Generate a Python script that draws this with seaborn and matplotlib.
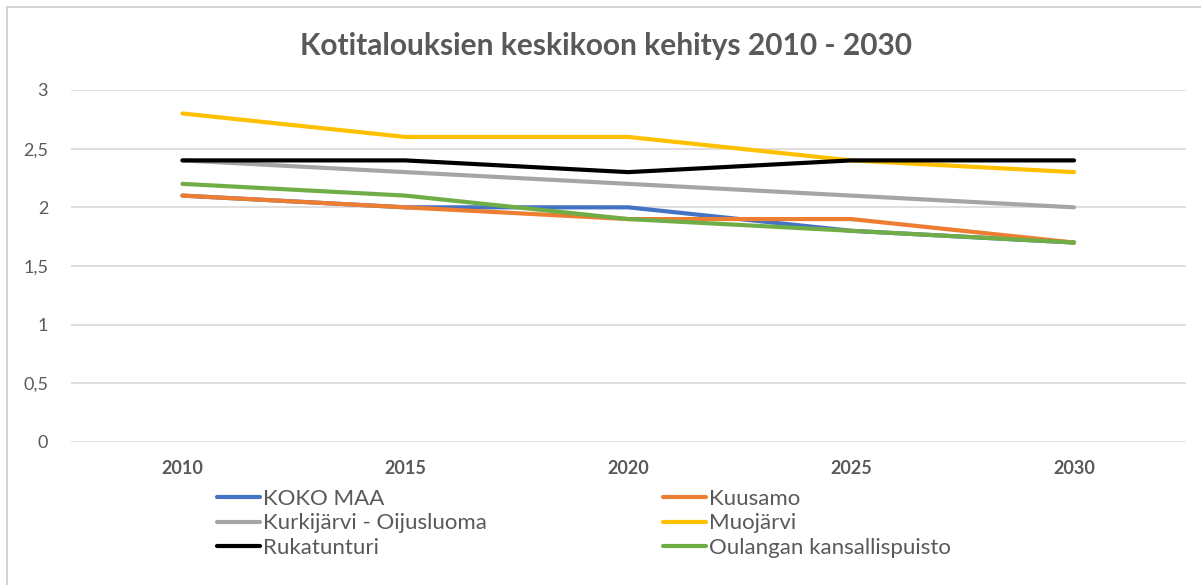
import matplotlib
matplotlib.use("Agg")
import matplotlib.pyplot as plt
import seaborn as sns
import pandas as pd
from matplotlib.lines import Line2D

years = [2010, 2015, 2020, 2025, 2030]
series_names = ["KOKO MAA", "Kuusamo", "Kurkijärvi - Oijusluoma", "Muojärvi",
                "Rukatunturi", "Oulangan kansallispuisto"]
koko_maa = [2.1, 2.0, 2.0, 1.8, 1.7]
kuusamo = [2.1, 2.0, 1.9, 1.9, 1.7]
kurkijarvi = [2.4, 2.3, 2.2, 2.1, 2.0]
muojarvi = [2.8, 2.6, 2.6, 2.4, 2.3]
rukatunturi = [2.4, 2.4, 2.3, 2.4, 2.4]
oulanka = [2.2, 2.1, 1.9, 1.8, 1.7]
y_ticks = [0, 0.5, 1, 1.5, 2, 2.5, 3]
y_tick_labels = ["0", "0,5", "1", "1,5", "2", "2,5", "3"]
title = "Kotitalouksien keskikoon kehitys 2010 - 2030"

colors = ["#4472C4", "#ED7D31", "#A5A5A5", "#FFC000", "#000000", "#70AD47"]

values = [koko_maa, kuusamo, kurkijarvi, muojarvi, rukatunturi, oulanka]
rows = []
for name, vals in zip(series_names, values):
    for yr, v in zip(years, vals):
        rows.append({"Vuosi": yr, "Arvo": v, "Sarja": name})
df = pd.DataFrame(rows)

sns.set_theme(style="white")
plt.rcParams["font.family"] = ["Lato", "DejaVu Sans"]

W, H = 1201, 585
fig = plt.figure(figsize=(W / 100, H / 100), dpi=100)
ax = fig.add_axes([71 / W, 1 - 442 / H, 1114.5 / W, 352 / H])

sns.lineplot(data=df, x="Vuosi", y="Arvo", hue="Sarja", hue_order=series_names,
             palette=colors, linewidth=3.0, ax=ax, legend=False,
             solid_capstyle="round", solid_joinstyle="round")

ax.set_xlim(2007.5, 2032.5)
ax.set_ylim(0, 3)
ax.set_yticks(y_ticks)
ax.set_yticklabels(y_tick_labels)
ax.set_xticks(years)
ax.set_xticklabels([str(y) for y in years], fontweight="bold")
ax.tick_params(axis="both", colors="#595959", labelsize=13, length=0)
ax.tick_params(axis="x", pad=13)
ax.tick_params(axis="y", pad=16.5)
ax.grid(axis="y", color="#D9D9D9", linewidth=1.2)
ax.set_axisbelow(True)
for s in ax.spines.values():
    s.set_visible(False)
ax.set_xlabel("")
ax.set_ylabel("")

fig.text(606 / W, 1 - 46 / H, title, ha="center", va="center",
         fontsize=21.5, fontweight="bold", color="#595959")

handles = [Line2D([0], [0], color=c, linewidth=3.0) for c in colors]
legend_kw = dict(loc="upper left", frameon=False, fontsize=16, handlelength=1.95,
                 handletextpad=0.12, labelspacing=0.2, borderaxespad=0, borderpad=0)
left_idx = [0, 2, 4]
right_idx = [1, 3, 5]
leg1 = fig.legend([handles[i] for i in left_idx], [series_names[i] for i in left_idx],
                  bbox_to_anchor=(217 / W, 1 - 489 / H), **legend_kw)
leg2 = fig.legend([handles[i] for i in right_idx], [series_names[i] for i in right_idx],
                  bbox_to_anchor=(663 / W, 1 - 489 / H), **legend_kw)
for leg in (leg1, leg2):
    for t in leg.get_texts():
        t.set_color("#595959")

# outer frame (top and left visible as in reference)
fig.add_artist(Line2D([7 / W, 1.0], [1 - 7 / H, 1 - 7 / H],
                      transform=fig.transFigure, color="#D0D0D0", linewidth=1.3))
fig.add_artist(Line2D([7 / W, 7 / W], [0.0, 1 - 7 / H],
                      transform=fig.transFigure, color="#D0D0D0", linewidth=1.3))

fig.savefig("out.png", dpi=100, facecolor="white")
